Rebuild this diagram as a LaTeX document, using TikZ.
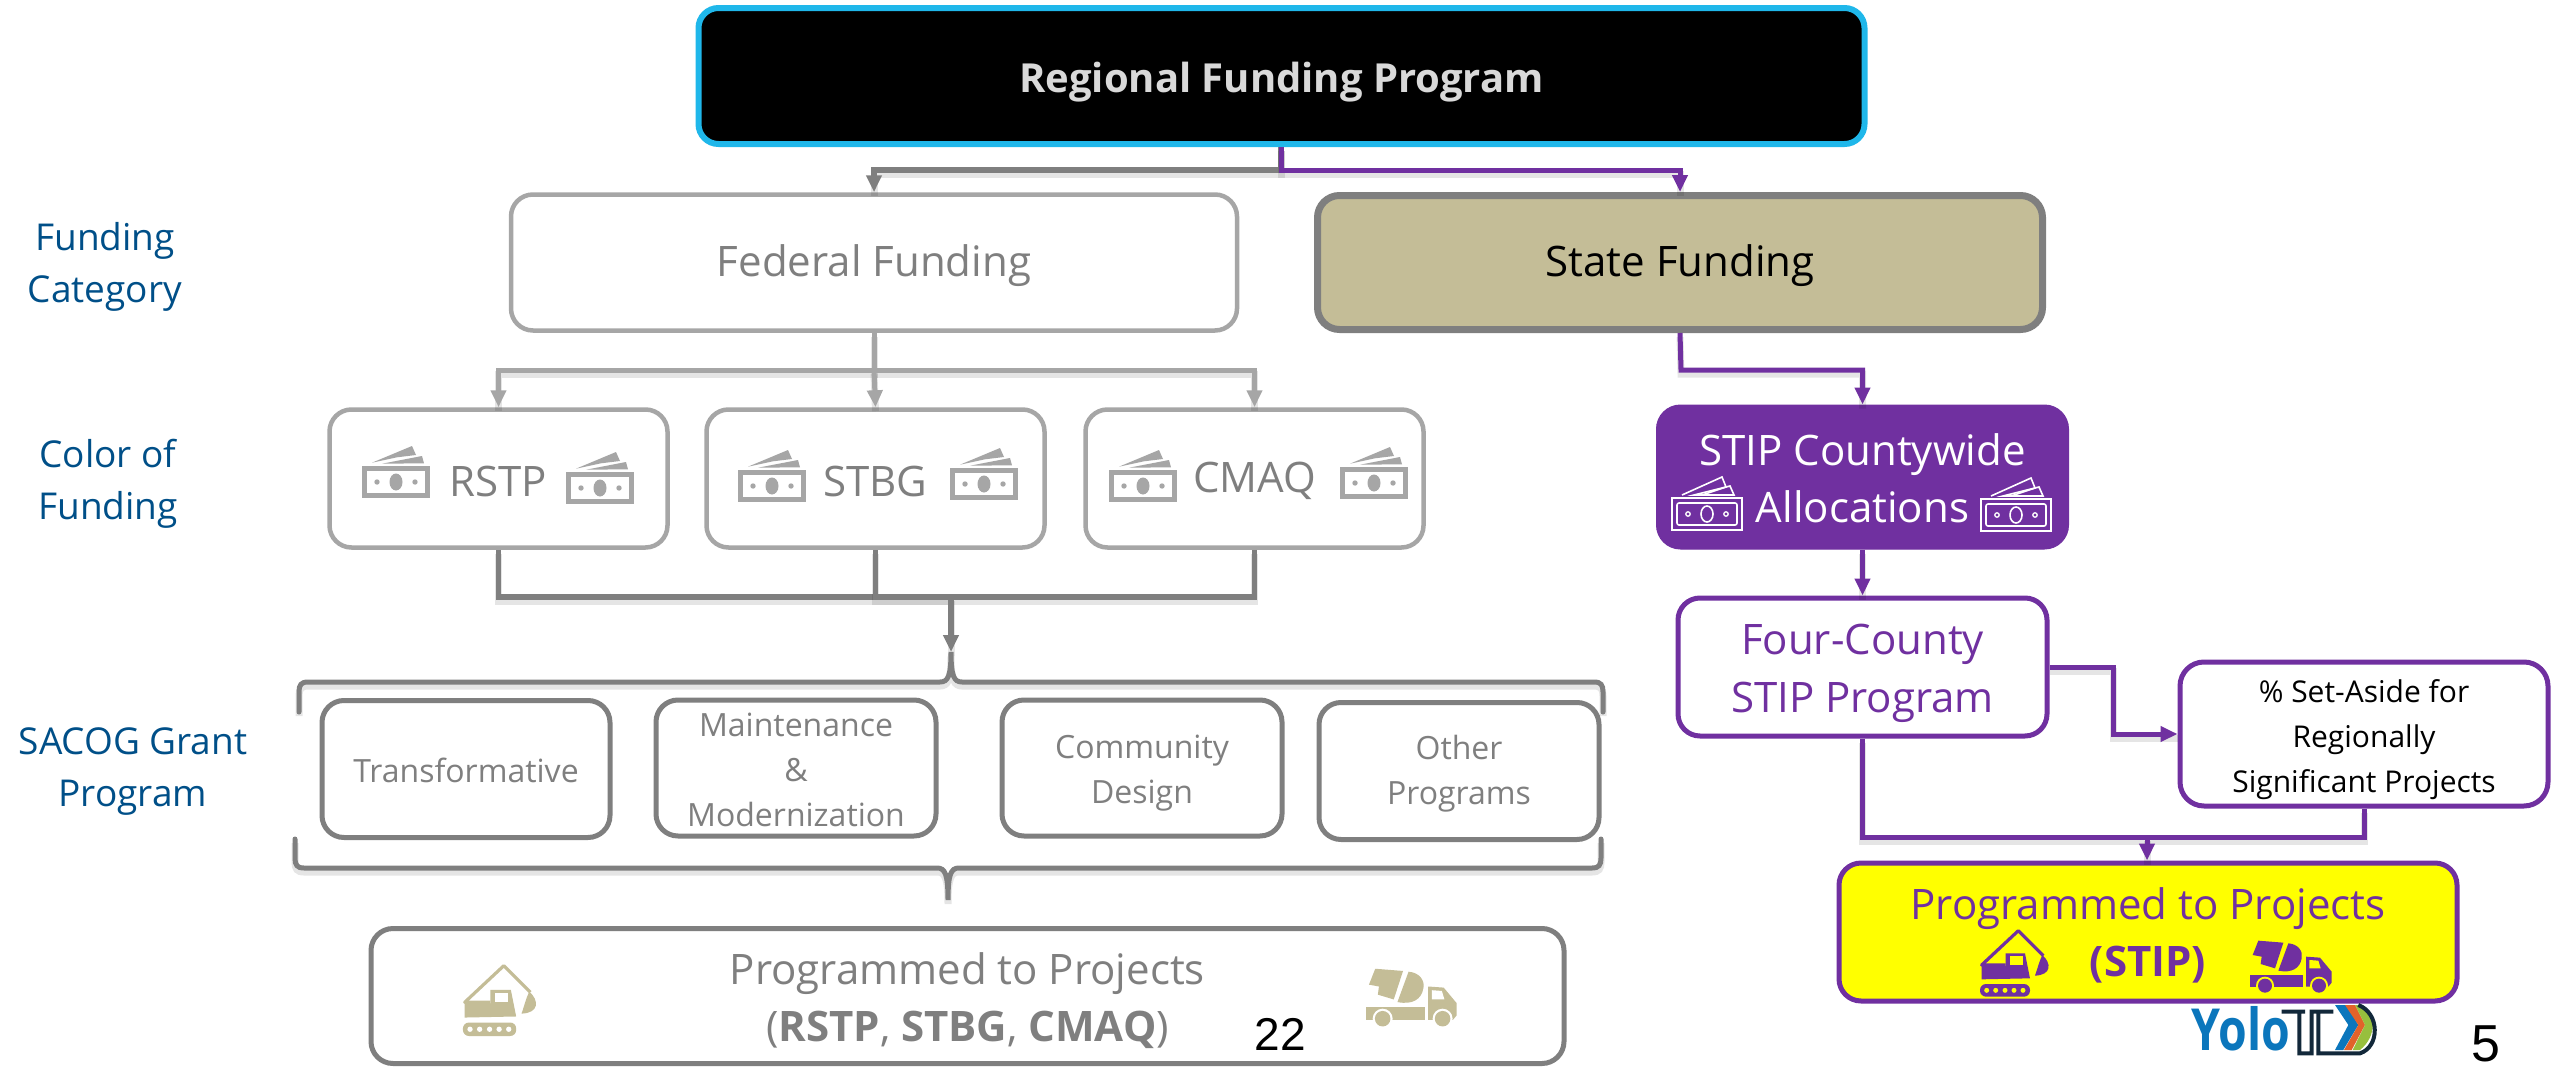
\documentclass[tikz,border=0pt]{standalone}
\usepackage{fontspec}
\setmainfont{Open Sans}
\newfontfamily\arialf{Liberation Sans}
\usetikzlibrary{arrows.meta,calc}
\definecolor{gborder}{HTML}{A6A6A6}
\definecolor{gdark}{HTML}{7F7F7F}
\definecolor{pur}{HTML}{7030A0}
\definecolor{gold}{HTML}{C4BD97}
\definecolor{cyanb}{HTML}{1FB7EA}
\definecolor{lblue}{HTML}{004F88}
\definecolor{lgtxt}{HTML}{D9D9D9}
\definecolor{logoblue}{HTML}{0B76BC}
\definecolor{logodark}{HTML}{12283A}
\definecolor{logoor}{HTML}{E2622A}
\definecolor{logogr}{HTML}{97BF3D}
\definecolor{brightyellow}{HTML}{FFFF00}
\newcommand{\fs}[2]{\fontsize{#1}{#2}\selectfont}
\newcommand{\dn}[1]{\rule{0pt}{\dimexpr 0.76em+2\dimexpr #1pt\relax\relax}}
\tikzset{
  x=1pt,y=-1pt,
  box/.style={rectangle,rounded corners=#1,inner sep=0pt,align=center},
  box/.default=22pt,
  lightbox/.style={box,draw=gborder,line width=4.5pt,fill=white,text=gdark,font=\fs{42}{56}},
  lowbox/.style={box,draw=gdark,line width=5pt,fill=white,text=gdark,font=\fs{32}{45}},
  purbox/.style={box,draw=pur,line width=5pt,fill=white,text=pur,font=\fs{42}{58}},
  sidelabel/.style={inner sep=0pt,align=center,text=lblue,font=\fs{37}{52}},
  tip/.style={-{Triangle[length=17pt,width=15pt]}},
  shadowed/.style={preaction={draw=black,opacity=.10,line width=7pt,-,transform canvas={yshift=-4pt}}},
  gl/.style={draw=gborder,line width=5pt,shadowed},
  gd/.style={draw=gdark,line width=5.5pt,shadowed},
  pl/.style={draw=pur,line width=5pt,shadowed},
  bracket/.style={draw=gdark,line width=5pt,line cap=round,shadowed},
  pics/money/.style={code={
    \fill[gborder] (0,0) rectangle (68,32);
    \fill[white] (5,5) rectangle (63,27);
    \fill[gborder] (34,16) ellipse (6.5 and 8.5);
    \fill[gborder] (15,16) circle (2.7);
    \fill[gborder] (53,16) circle (2.7);
    \fill[gborder] (10,-3.3) -- (50,-20) -- (54,-11) -- (35,-8.7) -- cycle;
    \fill[gborder] (20,-2.3) -- (60,-10) -- (62,-2.7) -- cycle;
  }},
  pics/moneyw/.style={code={
    \draw[white,line width=1.6pt] (0,0) rectangle (70,32);
    \draw[white,line width=1.6pt,rounded corners=2pt] (5,5) rectangle (65,27);
    \draw[white,line width=1.6pt] (35,16) ellipse (6 and 8);
    \draw[white,line width=1.3pt] (16,16) circle (2.2);
    \draw[white,line width=1.3pt] (54,16) circle (2.2);
    \draw[white,line width=1.6pt] (10,-3) -- (50,-21) -- (54,-11) -- (30,-3);
    \draw[white,line width=1.6pt] (22,-3) -- (58,-12) -- (62,-3) -- cycle;
  }},
  pics/excavator/.style 2 args={code={
    \draw[#1,line width=3.2pt,line join=round] (112,125) -- (40,125) -- (150,22) -- (225,97);
    \fill[#1] (40,128) -- (112,128) -- (112,90) -- (170,90) -- (185,165) -- (40,168) -- cycle;
    \fill[#2] (125,98) rectangle (163,125);
    \fill[#1] (222,95) .. controls (250,120) and (250,155) .. (200,157) .. controls (208,135) and (212,115) .. (222,95) -- cycle;
    \fill[#1,rounded corners=6pt] (35,182) rectangle (185,220);
    \foreach \dx in {55,82,110,137,164}{\fill[#2] (\dx,201) circle (7.5);}
  }},
  pics/truck/.style 2 args={code={
    \fill[#1] (865,52) -- (940,58) -- (915,135) -- (872,122) -- (875,100) -- (848,95) -- cycle;
    \fill[#1] (955,60) .. controls (985,62) and (1000,85) .. (995,105) .. controls (990,135) and (965,150) .. (925,142) -- cycle;
    \fill[#1] (840,155) -- (1000,155) -- (1000,190) -- (840,190) -- cycle;
    \fill[#1] (1008,100) -- (1050,103) -- (1085,145) -- (1085,178) -- (1075,190) -- (1008,190) -- cycle;
    \fill[#2] (1018,110) -- (1045,112) -- (1052,135) -- (1018,135) -- cycle;
    \fill[#2] (885,187) circle (27);
    \fill[#1] (885,187) circle (21);
    \fill[#2] (1047,187) circle (27);
    \fill[#1] (1047,187) circle (21);
  }},
}
\begin{document}
\begin{tikzpicture}
\useasboundingbox (0,0) rectangle (2552,1068);
% free junctions of connectors
\coordinate (topj) at (1281,170);
\coordinate (fedj) at (874,370);
\coordinate (mergej) at (951,597);
\coordinate (bracetip) at (951,652);
\coordinate (brace2tip) at (948,900);
\coordinate (statej) at (1681,370);
\coordinate (stipj) at (2147,837);

% boxes
\node[box=20pt,draw=cyanb,line width=6pt,fill=black,text=lgtxt,font=\bfseries\fs{40}{50},minimum width=1166pt,minimum height=136pt] (top) at (1281.5,76) {\dn{6.5}Regional Funding Program};
\node[lightbox,minimum width=726pt,minimum height=136pt] (federal) at (874,262.5) {\dn{3}Federal Funding};
\node[box,draw=gdark,line width=7pt,fill=gold,text=black,font=\fs{42}{50},minimum width=725pt,minimum height=134pt] (state) at (1680,262.5) {\dn{3}State Funding};

\node[lightbox,minimum width=338pt,minimum height=138pt] (rstp) at (498.5,478.5) {\dn{2}RSTP};
\node[lightbox,minimum width=338pt,minimum height=138pt] (stbg) at (875.5,478.5) {\dn{2}STBG};
\node[lightbox,minimum width=338pt,minimum height=138pt] (cmaq) at (1254.5,478.5) {\dn{2}CMAQ};

\node[lowbox,minimum width=288pt,minimum height=137pt] (transf) at (466,769) {\dn{1.5}Transformative};
\node[lowbox,minimum width=280pt,minimum height=136pt] (maint) at (796,768) {\dn{1}Maintenance\\\&\\Modernization};
\node[lowbox,minimum width=280pt,minimum height=136pt] (comm) at (1142,768) {\dn{5}Community\\Design};
\node[lowbox,minimum width=280pt,minimum height=137pt] (other) at (1459,771) {\dn{3}Other\\Programs};

\node[lowbox,font=\fs{42}{57},minimum width=1193pt,minimum height=135pt] (progL) at (967.5,996) {\dn{5}Programmed to Projects\\(\textbf{RSTP}, \textbf{STBG}, \textbf{CMAQ})};

\node[box=24pt,draw=pur,line width=1pt,fill=pur,text=white,font=\fs{42}{57},minimum width=412pt,minimum height=144pt] (stip) at (1862.5,477) {\dn{1.5}STIP Countywide\\Allocations};
\node[purbox,minimum width=369pt,minimum height=138pt] (four) at (1862.5,667) {\dn{6}Four-County\\STIP Program};
\node[box=24pt,draw=pur,line width=5pt,fill=white,text=black,font=\fs{30}{45},minimum width=368pt,minimum height=144pt] (setaside) at (2364,734) {\dn{6}\% Set-Aside for\\Regionally\\Significant Projects};
\node[purbox,fill=brightyellow,font=\fs{42}{57},minimum width=618pt,minimum height=138pt] (yellowbox) at (2148,932) {\dn{3}Programmed to Projects\\\textbf{(STIP)}};

% side labels
\node[sidelabel] (lab1) at (105,266.5) {Funding\\Category};
\node[sidelabel] (lab2) at (108,483.5) {Color of\\Funding};
\node[sidelabel] (lab3) at (133,771.5) {SACOG Grant\\Program};

% connectors
\draw[gd,tip] (top.south -| topj) -- (topj) -| (federal.north);
\draw[pl,tip] (top.south -| topj) -- (topj) -| (state.north);
\draw[gl,tip] (federal.south) -- (fedj) -| (rstp.north);
\draw[gl,tip] (fedj) -| (cmaq.north);
\draw[gl,tip] (fedj) -- (stbg.north);
\draw[gd] (rstp.south) |- (mergej);
\draw[gd] (stbg.south) |- (mergej);
\draw[gd] (cmaq.south) |- (mergej);
\draw[gd,tip] (mergej) -- (bracetip);
\draw[pl,tip] (state.south) -- (statej) -| (stip.north);
\draw[pl,tip] (stip.south) -- (four.north);
\draw[pl,tip] (four.east) -- ++(64,0) |- (setaside.west);
\draw[pl] (four.south) |- (stipj);
\draw[pl] (setaside.south) |- (stipj);
\draw[pl,tip] (stipj) -- (yellowbox.north -| stipj);

% braces
\draw[bracket] (299,712) -- (299,692) .. controls (299,685) and (301,682) .. (308,682) -- (940,682) .. controls (948,682) and (951,676) .. (bracetip) .. controls (951,676) and (954,682) .. (962,682) -- (1594,682) .. controls (1601,682) and (1603,685) .. (1603,692) -- (1603,712);
\draw[bracket] (295,839) -- (295,858) .. controls (295,865) and (297,868) .. (304,868) -- (937,868) .. controls (945,868) and (948,874) .. (brace2tip) .. controls (948,874) and (951,868) .. (959,868) -- (1592,868) .. controls (1599,868) and (1601,865) .. (1601,858) -- (1601,839);

% money icons
\pic at (362,466) {money};
\pic at (566,472) {money};
\pic at (738,470) {money};
\pic at (950,468) {money};
\pic at (1109,470) {money};
\pic at (1340,467) {money};
\pic at (1672,498) {moneyw};
\pic at (1981,499) {moneyw};

% machines
\pic[shift={(1981,930)},scale=.3333,shift={(-38,-20)}] {excavator={pur}{brightyellow}};
\pic[shift={(2250,940)},scale=.3333,shift={(-840,-50)}] {truck={pur}{brightyellow}};
\pic[shift={(464,965)},scale=.355,shift={(-38,-20)}] {excavator={gold}{white}};
\pic[shift={(1366,968)},scale=.37,shift={(-840,-50)}] {truck={gold}{white}};

% page numbers
\node[inner sep=0pt,font=\arialf\fs{46}{50},text=black] (pn22) at (1280,1034) {22};
\node[inner sep=0pt,font=\arialf\fs{52}{52},text=black] (pn5) at (2486,1044) {5};

% logo
\node[inner sep=0pt,xscale=.8,font=\bfseries\fs{58}{58},text=logoblue] (logo) at (2241,1029) {Yolo};
\begin{scope}[shift={(2180,990)},scale=.3333]
  \fill[logoblue] (465,45) -- (500,45) -- (535,105) -- (490,180) -- (465,180) -- (505,105) -- cycle;
  \fill[logoor] (495,45) -- (525,45) -- (555,105) -- (515,180) -- (492,180) -- (535,105) -- cycle;
  \fill[logogr] (525,45) -- (548,45) .. controls (590,70) and (590,140) .. (540,180) -- (518,180) -- (555,105) -- cycle;
  \draw[logodark,line width=4pt] (305,65) -- (375,65) (358,65) -- (358,190) -- (395,190) -- (395,65) -- (460,65)
    (415,65) -- (415,190) -- (540,190) .. controls (600,170) and (600,70) .. (535,45);
\end{scope}
\end{tikzpicture}
\end{document}
